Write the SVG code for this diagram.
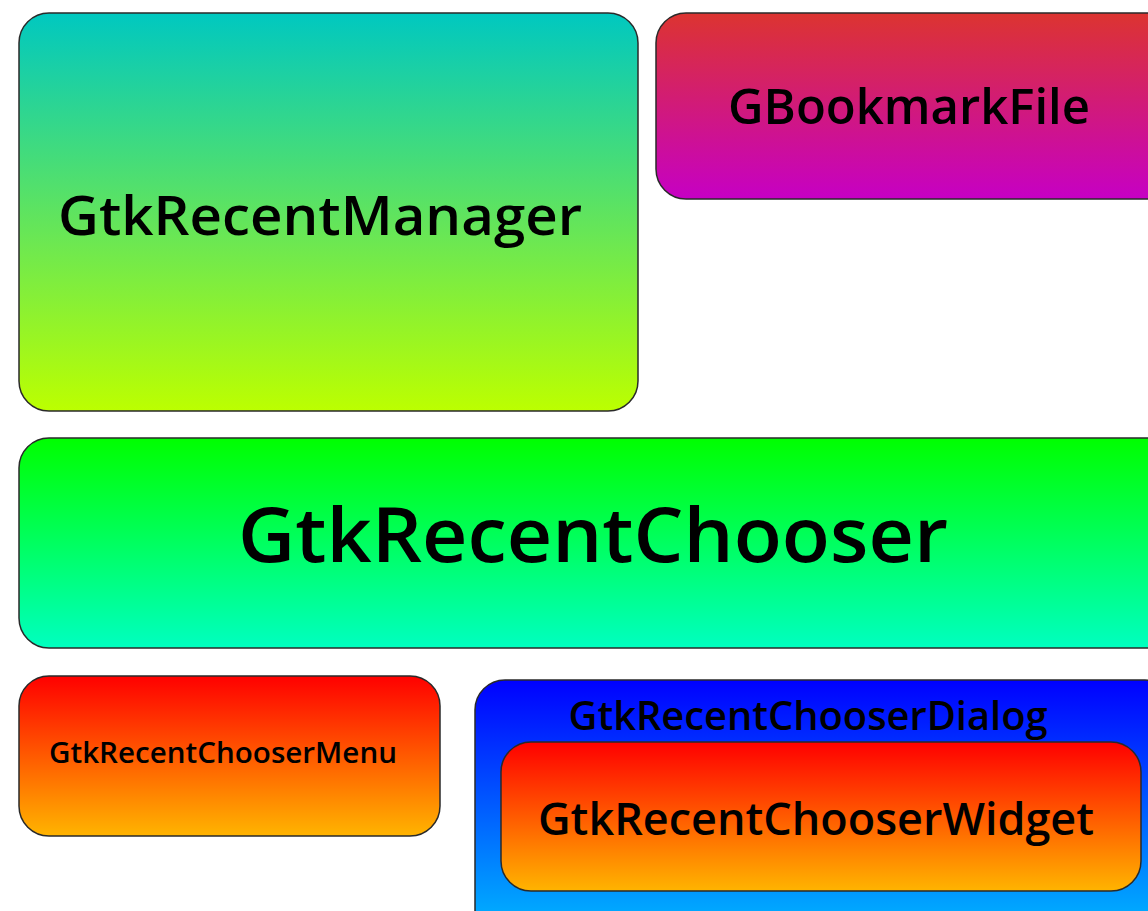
<svg xmlns="http://www.w3.org/2000/svg" width="1148" height="911" viewBox="0 0 1148 911">
<defs>
<linearGradient id="gMgr" x1="0" y1="0" x2="0" y2="1"><stop offset="0" stop-color="#00c8c0"/><stop offset="1" stop-color="#bcff00"/></linearGradient>
<linearGradient id="gBm" x1="0" y1="0" x2="0" y2="1"><stop offset="0" stop-color="#dc3430"/><stop offset="1" stop-color="#c600c4"/></linearGradient>
<linearGradient id="gCh" x1="0" y1="0" x2="0" y2="1"><stop offset="0" stop-color="#00ff00"/><stop offset="1" stop-color="#00ffc0"/></linearGradient>
<linearGradient id="gOr" x1="0" y1="0" x2="0" y2="1"><stop offset="0" stop-color="#ff0000"/><stop offset="1" stop-color="#ffb400"/></linearGradient>
<linearGradient id="gBl" x1="0" y1="0" x2="0" y2="1"><stop offset="0" stop-color="#0000ff"/><stop offset="1" stop-color="#00bcff"/></linearGradient>
</defs>
<style>
.box{stroke:#2a2a2a;stroke-width:1.5}
.lbl{font-family:"Open Sans","Noto Sans",sans-serif;font-weight:600;fill:#000;text-anchor:middle}
</style>
<rect width="1148" height="911" fill="#fff"/>
<g id="GtkRecentManager">
<rect class="box" x="19" y="13" width="619" height="398" rx="30" fill="url(#gMgr)"/>
<text class="lbl" x="320" y="235" font-size="54" textLength="524" lengthAdjust="spacingAndGlyphs">GtkRecentManager</text>
</g>
<g id="GBookmarkFile">
<rect class="box" x="656" y="13" width="520" height="186" rx="30" fill="url(#gBm)"/>
<text class="lbl" x="909" y="124" font-size="48" textLength="362" lengthAdjust="spacingAndGlyphs">GBookmarkFile</text>
</g>
<g id="GtkRecentChooser">
<rect class="box" x="19" y="438" width="1160" height="210" rx="30" fill="url(#gCh)"/>
<text class="lbl" x="593" y="562" font-size="76" textLength="710" lengthAdjust="spacingAndGlyphs">GtkRecentChooser</text>
</g>
<g id="GtkRecentChooserMenu">
<rect class="box" x="19" y="676" width="421" height="160" rx="30" fill="url(#gOr)"/>
<text class="lbl" x="223" y="763" font-size="29" textLength="348" lengthAdjust="spacingAndGlyphs">GtkRecentChooserMenu</text>
</g>
<g id="GtkRecentChooserDialog">
<rect class="box" x="475" y="680" width="700" height="260" rx="30" fill="url(#gBl)"/>
<text class="lbl" x="808" y="730" font-size="40" textLength="479" lengthAdjust="spacingAndGlyphs">GtkRecentChooserDialog</text>
</g>
<g id="GtkRecentChooserWidget">
<rect class="box" x="501" y="742" width="640" height="149" rx="30" fill="url(#gOr)"/>
<text class="lbl" x="816" y="835" font-size="46" textLength="556" lengthAdjust="spacingAndGlyphs">GtkRecentChooserWidget</text>
</g>
<g id="connectors"/>
</svg>
